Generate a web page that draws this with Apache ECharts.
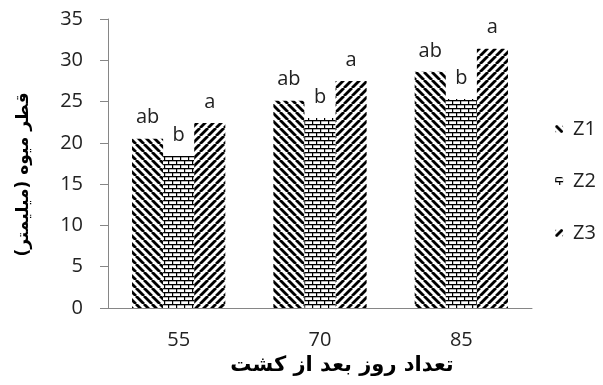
<!DOCTYPE html>
<html>
<head>
<meta charset="utf-8">
<script src="https://cdn.jsdelivr.net/npm/echarts@6/dist/echarts.min.js"></script>
<style>
  html, body { margin: 0; padding: 0; background: #fff; }
  #chart { width: 603px; height: 385px; }
</style>
</head>
<body>
<div id="chart"></div>
<script>
// روز بعد از کشت
var days = ['55', '70', '85'];
var seriesNames = ['Z1', 'Z2', 'Z3'];
// قطر میوه (میلیمتر)
var z1Values = [20.5, 25.1, 28.6];
var z2Values = [18.4, 23.0, 25.3];
var z3Values = [22.4, 27.5, 31.4];
// حروف مقایسه میانگین
var z1Letters = ['ab', 'ab', 'ab'];
var z2Letters = ['b', 'b', 'b'];
var z3Letters = ['a', 'a', 'a'];

// hatch patterns drawn on small canvases
function stripes(dir) {
  var c = document.createElement('canvas');
  c.width = 8; c.height = 8;
  var g = c.getContext('2d');
  g.fillStyle = '#fff';
  g.fillRect(0, 0, 8, 8);
  g.strokeStyle = '#000';
  g.lineWidth = 2.8;
  for (var k = -1; k <= 1; k++) {
    g.beginPath();
    if (dir > 0) { g.moveTo(k * 8, 8); g.lineTo(k * 8 + 8, 0); }
    else { g.moveTo(k * 8, 0); g.lineTo(k * 8 + 8, 8); }
    g.stroke();
  }
  return c;
}
function bricks() {
  var c = document.createElement('canvas');
  c.width = 8; c.height = 8;
  var g = c.getContext('2d');
  g.fillStyle = '#fff';
  g.fillRect(0, 0, 8, 8);
  g.fillStyle = '#000';
  g.fillRect(0, 0, 8, 1.3);
  g.fillRect(0, 4, 8, 1.3);
  g.fillRect(0, 0, 1.2, 4);
  g.fillRect(4, 4, 1.2, 4);
  return c;
}
var patterns = [stripes(-1), bricks(), stripes(1)];

function makeSeries(i, values, letters) {
  return {
    name: seriesNames[i],
    type: 'bar',
    data: values,
    barGap: '0%',
    barCategoryGap: '34%',
    itemStyle: { color: { image: patterns[i], repeat: 'repeat' } },
    label: {
      show: true,
      position: 'top',
      distance: 11,
      fontFamily: 'Open Sans',
      fontSize: 20,
      color: '#222',
      formatter: function (p) { return letters[p.dataIndex]; }
    }
  };
}

var myChart = echarts.init(document.getElementById('chart'), null, { renderer: 'canvas' });
myChart.setOption({
  animation: false,
  grid: { left: 108, right: 71, top: 19, bottom: 77 },
  legend: {
    orient: 'vertical',
    right: 2,
    top: 114,
    itemWidth: 8,
    itemHeight: 8,
    itemGap: 32,
    data: seriesNames,
    textStyle: { fontFamily: 'Open Sans', fontSize: 20, color: '#222', padding: [0, 0, 0, 5] }
  },
  xAxis: {
    type: 'category',
    data: days,
    name: 'تعداد روز بعد از کشت',
    nameLocation: 'middle',
    nameGap: 47,
    nameTextStyle: { fontFamily: 'DejaVu Sans', fontWeight: 'bold', fontSize: 21, color: '#000', padding: [0, 0, 0, 44] },
    axisLine: { lineStyle: { color: '#868686' } },
    axisTick: { show: false },
    axisLabel: { fontFamily: 'Open Sans', fontSize: 20, color: '#222', margin: 22 }
  },
  yAxis: {
    type: 'value',
    min: 0,
    max: 35,
    interval: 5,
    name: 'قطر میوه (میلیمتر)',
    nameLocation: 'middle',
    nameGap: 76,
    nameTextStyle: { fontFamily: 'DejaVu Sans', fontWeight: 'bold', fontSize: 17, color: '#000', padding: [0, 22, 0, 0] },
    axisLine: { show: true, lineStyle: { color: '#868686' } },
    axisTick: { show: true, length: 8, lineStyle: { color: '#868686' } },
    splitLine: { show: false },
    axisLabel: { fontFamily: 'Open Sans', fontSize: 20, color: '#222', margin: 25 }
  },
  series: [
    makeSeries(0, z1Values, z1Letters),
    makeSeries(1, z2Values, z2Letters),
    makeSeries(2, z3Values, z3Letters)
  ]
});
</script>
</body>
</html>
